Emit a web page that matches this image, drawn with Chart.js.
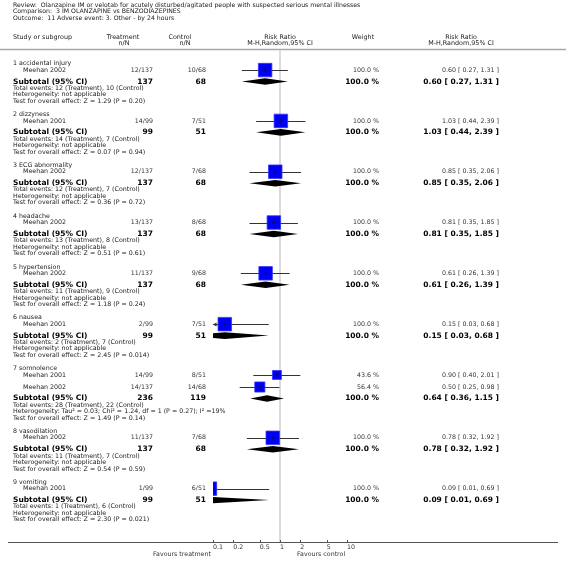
<!DOCTYPE html>
<html><head><meta charset="utf-8">
<script src="https://cdn.jsdelivr.net/npm/chart.js@4.4.1/dist/chart.umd.min.js"></script>
<style>html,body{margin:0;padding:0;background:#fff;overflow:hidden}canvas{display:block}</style>
</head><body>
<canvas id="c" width="566" height="573"></canvas>
<script>
// ---------- data ----------
const titleLines = [
  'Review:  Olanzapine IM or velotab for acutely disturbed/agitated people with suspected serious mental illnesses',
  'Comparison:  3 IM OLANZAPINE vs BENZODIAZEPINES',
  'Outcome:  11 Adverse event: 3. Other - by 24 hours'
];
const groupNames = ['1 accidental injury','2 dizzyness','3 ECG abnormality','4 headache','5 hypertension','6 nausea','7 somnolence','8 vasodilation','9 vomiting'];
const studyGroup  = [0,1,2,3,4,5,6,6,7,8];
const studyNames  = ['Meehan 2002','Meehan 2001','Meehan 2002','Meehan 2002','Meehan 2002','Meehan 2001','Meehan 2001','Meehan 2002','Meehan 2002','Meehan 2001'];
const studyTreat  = ['12/137','14/99','12/137','13/137','11/137','2/99','14/99','14/137','11/137','1/99'];
const studyCtrl   = ['10/68','7/51','7/68','8/68','9/68','7/51','8/51','14/68','7/68','6/51'];
const studyRR     = [0.60,1.03,0.85,0.81,0.61,0.15,0.90,0.50,0.78,0.09];
const studyLo     = [0.27,0.44,0.35,0.35,0.26,0.03,0.40,0.25,0.32,0.01];
const studyHi     = [1.31,2.39,2.06,1.85,1.39,0.68,2.01,0.98,1.92,0.69];
const studyWeight = [100,100,100,100,100,100,43.6,56.4,100,100];

const subTreatN = [137,99,137,137,137,99,236,137,99];
const subCtrlN  = [68,51,68,68,68,51,119,68,51];
const subRR     = [0.60,1.03,0.85,0.81,0.61,0.15,0.64,0.78,0.09];
const subLo     = [0.27,0.44,0.35,0.35,0.26,0.03,0.36,0.32,0.01];
const subHi     = [1.31,2.39,2.06,1.85,1.39,0.68,1.15,1.92,0.69];
const subWeight = [100,100,100,100,100,100,100,100,100];
const eventsTreat = [12,14,12,13,11,2,28,11,1];
const eventsCtrl  = [10,7,7,8,9,7,22,7,6];
const heterogeneity = [
  'Heterogeneity: not applicable','Heterogeneity: not applicable','Heterogeneity: not applicable',
  'Heterogeneity: not applicable','Heterogeneity: not applicable','Heterogeneity: not applicable',
  'Heterogeneity: Tau\u00B2 = 0.03; Chi\u00B2 = 1.24, df = 1 (P = 0.27); I\u00B2 =19%',
  'Heterogeneity: not applicable','Heterogeneity: not applicable'
];
const overallZ = ['1.29','0.07','0.36','0.51','1.18','2.45','1.49','0.54','2.30'];
const overallP = ['0.20','0.94','0.72','0.61','0.24','0.014','0.14','0.59','0.021'];

const tickValues = [0.1,0.2,0.5,1,2,5,10];
const tickLabels = ['0.1','0.2','0.5','1','2','5','10'];
const favoursLeft = 'Favours treatment';
const favoursRight = 'Favours control';

// ---------- layout (row positions in the y scale's units) ----------
const ROW = {first:54.5, headToStudy:6.4, studyToStudy:12.3, studyToSub:11.7, subToTot:6.8, totToHet:6.6, hetToTest:6.6, testToNext:13.7};
function buildRows(){
  let y = ROW.first; const rows = []; const studyY = [];
  groupNames.forEach((g, gi) => {
    const r = {head:y};
    y += ROW.headToStudy;
    let first = true;
    studyGroup.forEach((sg, si) => {
      if (sg !== gi) return;
      if (!first) y += ROW.studyToStudy;
      first = false;
      studyY[si] = y;
    });
    y += ROW.studyToSub; r.sub = y;
    y += ROW.subToTot; r.tot = y;
    y += ROW.totToHet; r.het = y;
    y += ROW.hetToTest; r.test = y;
    y += ROW.testToNext;
    rows.push(r);
  });
  return {rows, studyY};
}
const LAY = buildRows();

const FONT = 'DejaVu Sans';
const fmt = v => v.toFixed(2);
const ciText = (m,l,h) => fmt(m) + ' [ ' + fmt(l) + ', ' + fmt(h) + ' ]';
const SQUARE_FULL = 13.5;

const forestPlugin = {
  id: 'forest',
  beforeDatasetsDraw(chart) {
    const ctx = chart.ctx, xs = chart.scales.x, ys = chart.scales.y, ca = chart.chartArea;
    ctx.save();
    // header separator
    ctx.strokeStyle = '#a8a8a8'; ctx.lineWidth = 1.6;
    ctx.beginPath(); ctx.moveTo(0, 49.5); ctx.lineTo(566, 49.5); ctx.stroke();
    // line of no effect
    const x1 = xs.getPixelForValue(1);
    ctx.strokeStyle = '#dcdcdc'; ctx.lineWidth = 2;
    ctx.beginPath(); ctx.moveTo(x1, 50); ctx.lineTo(x1, ca.bottom); ctx.stroke();
    // axis line
    ctx.strokeStyle = '#555'; ctx.lineWidth = 1;
    ctx.beginPath(); ctx.moveTo(8, ca.bottom + 0.5); ctx.lineTo(558, ca.bottom + 0.5); ctx.stroke();
    // tick marks (upward)
    tickValues.forEach(v => {
      const px = Math.round(xs.getPixelForValue(v)) + 0.5;
      ctx.beginPath(); ctx.moveTo(px, ca.bottom - 2); ctx.lineTo(px, ca.bottom); ctx.stroke();
    });
    // confidence intervals
    ctx.strokeStyle = '#333'; ctx.fillStyle = '#333'; ctx.lineWidth = 1;
    studyRR.forEach((m, i) => {
      const y = Math.round(ys.getPixelForValue(LAY.studyY[i])) + 0.5;
      const a = xs.getPixelForValue(studyLo[i]), b = xs.getPixelForValue(studyHi[i]);
      const ca1 = Math.max(a, ca.left), cb1 = Math.min(b, ca.right);
      ctx.beginPath(); ctx.moveTo(ca1, y); ctx.lineTo(cb1, y); ctx.stroke();
      if (a < ca.left) { ctx.beginPath(); ctx.moveTo(ca.left, y); ctx.lineTo(ca.left + 3.5, y - 2); ctx.lineTo(ca.left + 3.5, y + 2); ctx.closePath(); ctx.fill(); }
      if (b > ca.right) { ctx.beginPath(); ctx.moveTo(ca.right, y); ctx.lineTo(ca.right - 3.5, y - 2); ctx.lineTo(ca.right - 3.5, y + 2); ctx.closePath(); ctx.fill(); }
    });
    // diamonds
    ctx.save();
    ctx.beginPath(); ctx.rect(ca.left, 0, ca.right - ca.left, chart.height); ctx.clip();
    ctx.fillStyle = '#000';
    subRR.forEach((m, gi) => {
      const y = ys.getPixelForValue(LAY.rows[gi].sub);
      const a = xs.getPixelForValue(subLo[gi]), b = xs.getPixelForValue(subHi[gi]), c = xs.getPixelForValue(m);
      ctx.beginPath(); ctx.moveTo(a, y); ctx.lineTo(c, y - 3.3); ctx.lineTo(b, y); ctx.lineTo(c, y + 3.3); ctx.closePath(); ctx.fill();
    });
    ctx.restore();
    ctx.restore();
  },
  afterDatasetsDraw(chart) {
    const ctx = chart.ctx, xs = chart.scales.x, ys = chart.scales.y, ca = chart.chartArea;
    ctx.save();
    ctx.beginPath(); ctx.rect(ca.left, 0, ca.right - ca.left, chart.height); ctx.clip();
    ctx.strokeStyle = '#111'; ctx.lineWidth = 0.7;
    studyRR.forEach((m, i) => {
      const x = xs.getPixelForValue(m), y = ys.getPixelForValue(LAY.studyY[i]);
      ctx.beginPath(); ctx.moveTo(x - 1.5, y); ctx.lineTo(x + 1.5, y); ctx.moveTo(x, y - 1.5); ctx.lineTo(x, y + 1.5); ctx.stroke();
    });
    ctx.restore();
  },
  afterDraw(chart) {
    const ctx = chart.ctx, ys = chart.scales.y;
    const reg = '6.3px "' + FONT + '"', bold = 'bold 7.5px "' + FONT + '"', head = '6.4px "' + FONT + '"', ttl = '6.2px "' + FONT + '"';
    function t(s, x, y, align, font, color) {
      ctx.font = font; ctx.textAlign = align; ctx.textBaseline = 'middle'; ctx.fillStyle = color || '#1a1a1a';
      ctx.fillText(s, x, y);
    }
    ctx.save();
    // title
    t(titleLines[0], 13, 5, 'left', ttl);
    t(titleLines[1], 13, 11.5, 'left', ttl);
    t(titleLines[2], 13, 18, 'left', ttl);
    // column headers
    t('Study or subgroup', 13, 37, 'left', head);
    t('Treatment', 123, 37, 'center', head); t('n/N', 124, 43, 'center', head);
    t('Control', 180, 37, 'center', head); t('n/N', 185, 43, 'center', head);
    t('Risk Ratio', 280, 37, 'center', head); t('M-H,Random,95% CI', 280, 43, 'center', head);
    t('Weight', 363, 37, 'center', head);
    t('Risk Ratio', 461, 37, 'center', head); t('M-H,Random,95% CI', 461, 43, 'center', head);
    // groups
    groupNames.forEach((g, gi) => {
      const r = LAY.rows[gi];
      t(g, 13, ys.getPixelForValue(r.head), 'left', reg);
      const ySub = ys.getPixelForValue(r.sub);
      t('Subtotal (95% CI)', 13, ySub, 'left', bold, '#000');
      t(String(subTreatN[gi]), 153, ySub, 'right', bold, '#000');
      t(String(subCtrlN[gi]), 206, ySub, 'right', bold, '#000');
      t(subWeight[gi].toFixed(1) + ' %', 379, ySub, 'right', bold, '#000');
      t(ciText(subRR[gi], subLo[gi], subHi[gi]), 499, ySub, 'right', bold, '#000');
      t('Total events: ' + eventsTreat[gi] + ' (Treatment), ' + eventsCtrl[gi] + ' (Control)', 13, ys.getPixelForValue(r.tot), 'left', reg);
      t(heterogeneity[gi], 13, ys.getPixelForValue(r.het), 'left', reg);
      t('Test for overall effect: Z = ' + overallZ[gi] + ' (P = ' + overallP[gi] + ')', 13, ys.getPixelForValue(r.test), 'left', reg);
    });
    studyNames.forEach((s, i) => {
      const y = ys.getPixelForValue(LAY.studyY[i]);
      t(s, 23, y, 'left', reg);
      t(studyTreat[i], 153, y, 'right', reg, '#333');
      t(studyCtrl[i], 206, y, 'right', reg, '#333');
      t(studyWeight[i].toFixed(1) + ' %', 379, y, 'right', reg, '#333');
      t(ciText(studyRR[i], studyLo[i], studyHi[i]), 499, y, 'right', reg, '#333');
    });
    // favours
    const ca = chart.chartArea;
    t(favoursLeft, 153, ca.bottom + 12, 'left', reg, '#333');
    t(favoursRight, 297, ca.bottom + 12, 'left', reg, '#333');
    ctx.restore();
  }
};

const AXIS_BOTTOM = 542;
new Chart(document.getElementById('c'), {
  type: 'scatter',
  data: {
    datasets: [{
      data: studyRR.map((v, i) => ({x: v, y: LAY.studyY[i]})),
      pointStyle: 'rect',
      pointRadius: c => SQUARE_FULL * Math.sqrt(studyWeight[c.dataIndex] / 100) / (2 * Math.SQRT1_2),
      backgroundColor: '#0000f5',
      borderColor: '#3434ff',
      borderWidth: 0.8,
      clip: 0
    }]
  },
  options: {
    responsive: false,
    animation: false,
    events: [],
    layout: {padding: {left: 213, right: 566 - 347, top: 0, bottom: 573 - AXIS_BOTTOM - 20}},
    plugins: {legend: {display: false}, tooltip: {enabled: false}},
    scales: {
      x: {
        type: 'logarithmic', min: 0.1, max: 10, position: 'bottom',
        afterBuildTicks: s => { s.ticks = tickValues.map(v => ({value: v})); },
        afterFit: s => { s.height = 20; },
        grid: {display: false, drawTicks: false},
        border: {display: false},
        ticks: {
          autoSkip: false, maxRotation: 0, align: 'start', padding: 1.5,
          font: {family: FONT, size: 6.3}, color: '#333',
          callback: (v, i) => tickLabels[i]
        }
      },
      y: {type: 'linear', min: 0, max: AXIS_BOTTOM, reverse: true, display: false}
    }
  },
  plugins: [forestPlugin]
});
</script>
</body></html>
